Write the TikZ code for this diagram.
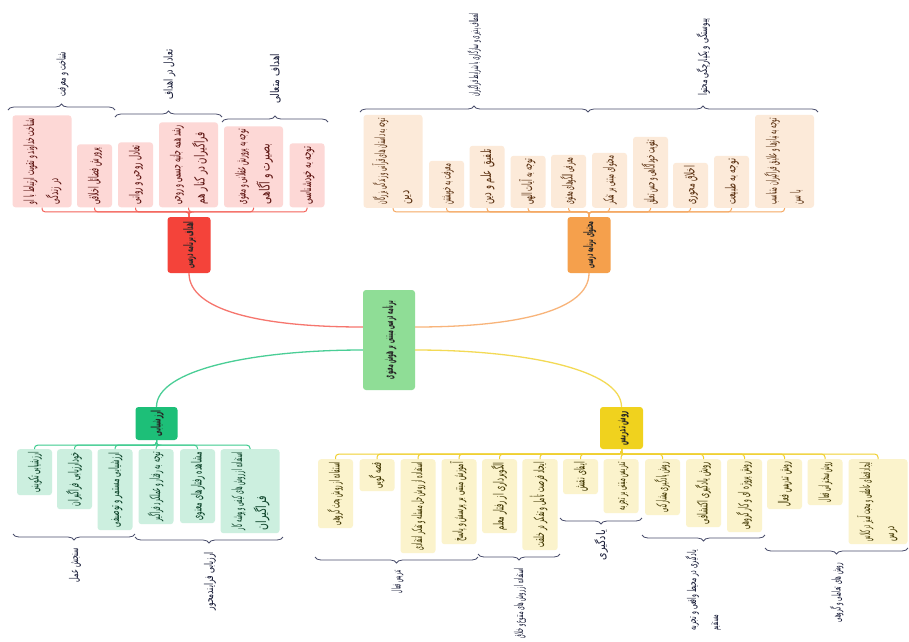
\documentclass[tikz,border=0pt]{standalone}
\usepackage{fontspec}
\usepackage{graphicx}
\usetikzlibrary{calc}
\usetikzlibrary{decorations.pathreplacing}

\newfontfamily\arabicfont[Script=Arabic]{DejaVu Sans}
\TeXXeTstate=1

% one line of persian text, squeezed to a given length
\newcommand\fa[2]{\rule[-6pt]{0pt}{20pt}\resizebox{#1pt}{\height}{\arabicfont #2}}
% two lines
\newcommand\fb[4]{\vbox{\hbox{\fa{#1}{#2}}\hbox{\fa{#3}{#4}}}}

\definecolor{rmain}{HTML}{F4433A}
\definecolor{rfill}{HTML}{FDD8D6}
\definecolor{rtext}{HTML}{5E1512}
\definecolor{rbus}{HTML}{F46259}
\definecolor{rcurve}{HTML}{F6766E}
\definecolor{omain}{HTML}{F5A04C}
\definecolor{ofill}{HTML}{FCEAD9}
\definecolor{otext}{HTML}{5A3010}
\definecolor{obus}{HTML}{F5A862}
\definecolor{ocurve}{HTML}{F8B47A}
\definecolor{gmain}{HTML}{1DBF78}
\definecolor{gfill}{HTML}{CCEFDF}
\definecolor{gtext}{HTML}{0B4228}
\definecolor{gbus}{HTML}{3CCB8E}
\definecolor{gcurve}{HTML}{4ACE96}
\definecolor{ymain}{HTML}{F0D21E}
\definecolor{yfill}{HTML}{FBF3CC}
\definecolor{ytext}{HTML}{403600}
\definecolor{ybus}{HTML}{F0D030}
\definecolor{ycurve}{HTML}{F3DA55}
\definecolor{cfill}{HTML}{8FDD96}
\definecolor{brc}{HTML}{4A4E6C}
\definecolor{lblc}{HTML}{161A36}

\tikzset{
	leaf/.style={rotate=90, rounded corners=3pt, inner xsep=0pt, inner ysep=7.5pt, font=\fontsize{14}{24}\selectfont},
	mnode/.style={rotate=90, rounded corners=3pt, inner sep=0pt, text=black!85, font=\fontsize{13}{15}\bfseries},
	lbl/.style={rotate=90, inner sep=0pt, text=lblc, font=\fontsize{12}{22}\selectfont},
	bus/.style={line width=1pt, rounded corners=3pt},
	trunk/.style={line width=1.3pt},
	brup/.style={brc, line width=0.8pt, decorate, decoration={brace, amplitude=6pt}},
	brdn/.style={brc, line width=0.8pt, decorate, decoration={brace, amplitude=6pt, mirror}}
}

\begin{document}
\begin{tikzpicture}[x=1pt,y=-1pt]
	\fill[white] (0,0) rectangle (909,641);
	\useasboundingbox (0,0) rectangle (909,641);

	\node[mnode, fill=cfill, minimum width=100pt, minimum height=52pt, font=\fontsize{14}{16}\bfseries] (c) at (389,340) {\fa{78}{\beginR برنامه درسی مبتنی بر هوش معنوی\endR}};
	\node[mnode, fill=rmain, minimum width=56pt, minimum height=43pt] (rm) at (189,245) {\fa{47}{\beginR اهداف برنامه درسی\endR}};
	\node[mnode, fill=omain, minimum width=56pt, minimum height=43pt] (om) at (589,245) {\fa{47}{\beginR محتوای برنامه درسی\endR}};
	\node[mnode, fill=gmain, minimum width=33pt, minimum height=42pt] (gm) at (156.5,423.5) {\fa{26}{\beginR ارزشیابی\endR}};
	\node[mnode, fill=ymain, minimum width=42pt, minimum height=43pt] (ym) at (621.5,428) {\fa{34}{\beginR روش تدریس\endR}};

	\draw[trunk, rcurve] ($(c.north)+(0,-13)$) .. controls +(-103,0) and +(0,37) .. (rm.west);
	\draw[trunk, ocurve] ($(c.south)+(0,-13)$) .. controls +(103,0) and +(0,37) .. (om.west);
	\draw[trunk, gcurve] ($(c.north)+(0,10)$) .. controls +(-110,0) and +(0,-37) .. (gm.east);
	\draw[trunk, ycurve] ($(c.south)+(0,10)$) .. controls +(110,0) and +(0,-37) .. (ym.east);

	% goals
	\foreach \x/\len/\txt [count=\i] in {
		42/92/{\fb{86}{\beginR شناخت خداوند و تقویت ارتباط با او\endR}{26}{\beginR در زندگی\endR}},
		94.5/63/{\fa{57}{\beginR پرورش فضائل اخلاقی\endR}},
		135.5/65/{\fa{59}{\beginR تعادل روحی و روانی\endR}},
		188.5/85/{\fb{79}{\beginR رشد همه جانبه جسمی و روحی\endR}{72}{\beginR فراگیران در کنار هم\endR}},
		253.5/81/{\fb{75}{\beginR توجه به پرورش عقلانی و معنوی\endR}{60}{\beginR بصیرت و آگاهی\endR}},
		307/64/{\fa{58}{\beginR توجه به خودشناسی\endR}}}{
		\node[leaf, fill=rfill, text=rtext, anchor=west, minimum width=\len pt] (r\i) at (\x,207.5) {\txt};
		\draw[bus, rbus] (rm.east) -- ++(0,-5) -| (r\i.west);
	}
	\draw[brup] (8,110) -- (115,110);
	\draw[brup] (115,117) -- (222,117);
	\draw[brup] (222,122) -- (328,122);
	\node[lbl, anchor=west] (rl1) at (61.5,97) {\fa{45}{\beginR شناخت و معرفت\endR}};
	\node[lbl, anchor=west] (rl2) at (168.5,100) {\fa{50}{\beginR تعادل در اهداف\endR}};
	\node[lbl, anchor=west] (rl3) at (275,104) {\fa{50}{\beginR اهداف متعالی\endR}};

	% content
	\foreach \x/\len/\txt [count=\i] in {
		393/93/{\fb{86}{\beginR توجه به داستان های قرآنی و زندگی بزرگان\endR}{14}{\beginR دین\endR}},
		446.5/47/{\fa{41}{\beginR معرفت به خویشتن\endR}},
		487/62/{\fa{56}{\beginR تلفیق علم و دین\endR}},
		528/52/{\fa{46}{\beginR توجه به آیات الهی\endR}},
		568.5/53/{\fa{47}{\beginR معرفی الگوهای معنوی\endR}},
		609.5/55/{\fa{49}{\beginR محتوای مبتنی بر تفکر\endR}},
		650.5/71/{\fa{65}{\beginR تقویت خودآگاهی و حس تعلق\endR}},
		690.5/45/{\fa{39}{\beginR اخلاق محوری\endR}},
		731.5/52/{\fa{46}{\beginR توجه به طبیعت\endR}},
		784.5/93/{\fb{86}{\beginR توجه به نیازها و علایق فراگیران متناسب\endR}{14}{\beginR با سن\endR}}}{
		\node[leaf, fill=ofill, text=otext, anchor=west, minimum width=\len pt] (o\i) at (\x,208) {\txt};
		\draw[bus, obus] (om.east) -- ++(0,-5) -| (o\i.west);
	}
	\draw[brup] (360,112) -- (588,112);
	\draw[brup] (588,112) -- (818,112);
	\node[lbl, anchor=west] (ol1) at (474,97) {\fa{84}{\beginR انعطاف پذیری و سازگاری با شرایط فراگیران\endR}};
	\node[lbl, anchor=west] (ol2) at (703,96) {\fa{77}{\beginR پیوستگی و یکپارچگی محتوا\endR}};

	% evaluation
	\foreach \x/\len/\txt [count=\i] in {
		34.5/46/{\fa{40}{\beginR ارزشیابی تکوینی\endR}},
		74.5/60/{\fa{54}{\beginR خودارزیابی فراگیران\endR}},
		115/81/{\fa{75}{\beginR ارزشیابی مستمر و توصیفی\endR}},
		156/75/{\fa{69}{\beginR توجه به رفتار و عملکرد فراگیر\endR}},
		197.5/74/{\fa{68}{\beginR مشاهده رفتارهای معنوی\endR}},
		250/84/{\fb{78}{\beginR استفاده از روش های کیفی و پوشه کار\endR}{34}{\beginR فراگیران\endR}}}{
		\node[leaf, fill=gfill, text=gtext, anchor=east, minimum width=\len pt] (g\i) at (\x,449) {\txt};
		\draw[bus, gbus] (gm.west) -- ++(0,5) -| (g\i.east);
	}
	\draw[brdn] (13,534) -- (135,534);
	\draw[brdn] (135,537) -- (283,537);
	\node[lbl, anchor=east] (gl1) at (74,548) {\fa{34}{\beginR سنجش عمل\endR}};
	\node[lbl, anchor=east] (gl2) at (209,552) {\fa{58}{\beginR ارزیابی فرایندمحور\endR}};

	% teaching
	\foreach \x/\len/\txt [count=\i] in {
		335.5/69/{\fa{63}{\beginR استفاده از روش بحث گروهی\endR}},
		377/32/{\fa{26}{\beginR قصه گویی\endR}},
		418/94/{\fa{88}{\beginR استفاده از روش حل مسئله و تفکر انتقادی\endR}},
		459/85/{\fa{79}{\beginR آموزش مبتنی بر پرسش و پاسخ\endR}},
		499.5/74/{\fa{68}{\beginR الگوبرداری از رفتار معلم\endR}},
		540/91/{\fa{85}{\beginR ایجاد فرصت تأمل و تفکر در خلقت\endR}},
		580.5/35/{\fa{29}{\beginR ایفای نقش\endR}},
		621/54/{\fa{48}{\beginR تدریس مبتنی بر تجربه\endR}},
		662.5/56/{\fa{50}{\beginR روش یادگیری مشارکتی\endR}},
		703.5/68/{\fa{62}{\beginR روش یادگیری اکتشافی\endR}},
		744.5/73/{\fa{67}{\beginR روش پروژه ای و کار گروهی\endR}},
		784.5/50/{\fa{44}{\beginR روش تدریس فعال\endR}},
		825/46/{\fa{40}{\beginR روش سخنرانی فعال\endR}},
		878/85/{\fb{79}{\beginR ایجاد فضای عاطفی و محبت آمیز در کلاس\endR}{15}{\beginR درس\endR}}}{
		\node[leaf, fill=yfill, text=ytext, anchor=east, minimum width=\len pt] (y\i) at (\x,459) {\txt};
		\draw[bus, ybus] (ym.west) -- ++(0,5) -| (y\i.east);
	}
	\draw[brdn] (315,557) -- (478,557);
	\draw[brdn] (478,554) -- (560,554);
	\draw[brdn] (560,518) -- (642,518);
	\draw[brdn] (642,535) -- (765,535);
	\draw[brdn] (765,548) -- (908,548);
	\node[lbl, anchor=east] (yl1) at (396.5,570) {\fa{23}{\beginR تدریس فعال\endR}};
	\node[lbl, anchor=east] (yl2) at (519,568) {\fa{70}{\beginR استفاده از روش های متنوع و خلاق\endR}};
	\node[lbl, anchor=east] (yl3) at (601,530) {\fa{30}{\beginR یادگیری\endR}};
	\node[lbl, anchor=east] (yl4) at (703,550) {\fb{80}{\beginR یادگیری در محیط واقعی و تجربه\endR}{15}{\beginR مستقیم\endR}};
	\node[lbl, anchor=east] (yl5) at (836.5,563) {\fa{59}{\beginR روش های تعاملی و گروهی\endR}};
\end{tikzpicture}
\end{document}
